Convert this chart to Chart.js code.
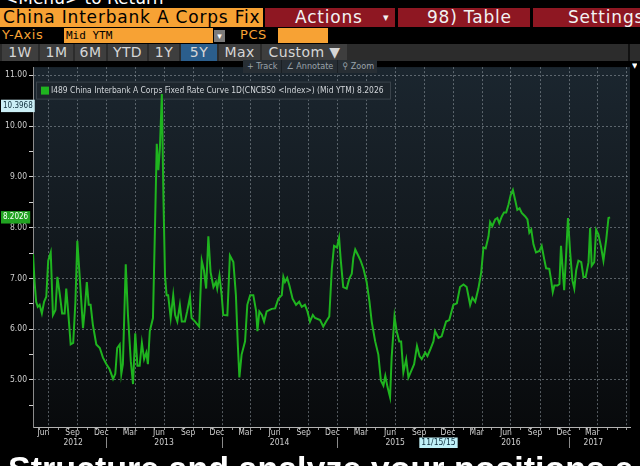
<!DOCTYPE html>
<html>
<head>
<meta charset="utf-8">
<script src="https://cdn.jsdelivr.net/npm/chart.js@4.4.0/dist/chart.umd.min.js"></script>
<style>
  html, body { margin: 0; padding: 0; background: #000; width: 640px; height: 466px; overflow: hidden; }
  .abs { position: absolute; white-space: nowrap; overflow: hidden; }
  #menu { left: 4px; top: -10px; color: #fff; font: 17px/17px 'DejaVu Sans', sans-serif; }
  .bar { top: 8px; height: 19px; font: 17px/19px 'DejaVu Sans', sans-serif; letter-spacing: 0.8px; }
  #title { left: 0; width: 260px; padding-left: 3px; background: #f7a234; color: #000; }
  .red { background: #8e1722; color: #f2f2f2; }
  .row2 { top: 27px; height: 16px; font: 13px/16px 'DejaVu Sans', sans-serif; letter-spacing: 0.6px; color: #f7a234; }
  .field { top: 28px; height: 15px; background: #f7a234; color: #000; font: 11px/15px 'DejaVu Sans Mono', monospace; }
  #tabs { left: 0; top: 44px; width: 640px; height: 17px; background: #2c2c2c; }
  .tab { top: 0; height: 17px; background: #3e3e3e; color: #d6d6d6; text-align: center; font: 14px/17px 'DejaVu Sans', sans-serif; letter-spacing: 0.4px; }
  #tools { left: 243px; top: 60px; width: 134px; height: 13px; background: #272e34; color: #9aa3aa; font: 9px/13px 'DejaVu Sans Condensed', sans-serif; z-index: 2; }
  #tools span { display: inline-block; padding: 0 4px; border-right: 1px solid #1a1f23; }
  #wrap { position: absolute; left: 0; top: 60px; width: 640px; height: 392px; }
  #promo { left: 8px; top: 451px; color: #fff; font: bold 34px/34px 'Liberation Sans', Arial, sans-serif; }
</style>
</head>
<body>
<div class="abs" id="menu">&lt;Menu&gt; to Return</div>
<div class="abs bar" id="title">China Interbank A Corps Fix</div>
<div class="abs bar red" style="left:265px;width:130px;"><span style="margin-left:30px">Actions</span><span style="position:absolute;left:118px;font-size:11px;">&#9662;</span></div>
<div class="abs bar red" style="left:398px;width:132px;"><span style="margin-left:29px">98) Table</span></div>
<div class="abs bar red" style="left:533px;width:107px;"><span style="margin-left:35px">Settings</span></div>

<div class="abs row2" style="left:2px;">Y-Axis</div>
<div class="abs field" style="left:64px;width:147px;padding-left:2px;">Mid YTM</div>
<div class="abs" style="left:214px;top:30px;width:11px;height:12px;background:#7b7b7b;color:#fff;font:9px/12px 'DejaVu Sans';text-align:center;">&#9662;</div>
<div class="abs row2" style="left:240px;">PCS</div>
<div class="abs field" style="left:278px;width:50px;"></div>

<div class="abs" id="tabs">
  <div class="abs tab" style="left:2px;width:36px;">1W</div>
  <div class="abs tab" style="left:40px;width:33px;">1M</div>
  <div class="abs tab" style="left:75px;width:31px;">6M</div>
  <div class="abs tab" style="left:108px;width:39px;">YTD</div>
  <div class="abs tab" style="left:149px;width:30px;">1Y</div>
  <div class="abs tab" style="left:181px;width:36px;background:#2b5e8c;">5Y</div>
  <div class="abs tab" style="left:219px;width:41px;">Max</div>
  <div class="abs tab" style="left:262px;width:85px;">Custom &#9660;</div>
  <div class="abs" style="left:628px;top:0;width:2px;height:17px;background:#111;"></div>
</div>

<div class="abs" id="tools"><span>+ Track</span><span>&#8736; Annotate</span><span style="border:none">&#9906; Zoom</span></div>
<div class="abs" style="left:632px;top:62px;color:#fff;font:7px/8px 'DejaVu Sans';">&#9660;</div>

<div id="wrap"><canvas id="chart"></canvas></div>
<div class="abs" id="promo">Structure and analyze your positions e</div>

<script>
// ---- data ----
const dates = [
  '2012-05-13','2012-05-18','2012-05-23','2012-05-28','2012-06-03','2012-06-10','2012-06-17','2012-06-24',
  '2012-06-30','2012-07-08','2012-07-15','2012-07-23','2012-07-29','2012-08-06','2012-08-13','2012-08-21',
  '2012-08-26','2012-09-01','2012-09-09','2012-09-17','2012-09-24','2012-09-30','2012-10-08','2012-10-18',
  '2012-10-23','2012-10-30','2012-11-05','2012-11-11','2012-11-18','2012-11-29','2012-12-10','2012-12-20',
  '2012-12-31','2013-01-10','2013-01-21','2013-01-28','2013-02-03','2013-02-11','2013-02-16','2013-02-21',
  '2013-03-02','2013-03-09','2013-03-18','2013-03-25','2013-04-01','2013-04-08','2013-04-15','2013-04-22',
  '2013-04-29','2013-05-06','2013-05-11','2013-05-17','2013-05-27','2013-06-02','2013-06-08','2013-06-13',
  '2013-06-18','2013-06-24','2013-06-29','2013-07-04','2013-07-09','2013-07-14','2013-07-22','2013-07-30',
  '2013-08-05','2013-08-12','2013-08-20','2013-08-26','2013-09-05','2013-09-12','2013-09-21','2013-09-26',
  '2013-10-07','2013-10-20','2013-10-28','2013-11-04','2013-11-11','2013-11-18','2013-11-25','2013-12-04',
  '2013-12-12','2013-12-16','2013-12-23','2013-12-30','2014-01-04','2014-01-17','2014-01-25','2014-02-05',
  '2014-02-13','2014-02-19','2014-02-24','2014-03-03','2014-03-14','2014-03-21','2014-03-30','2014-04-09',
  '2014-04-18','2014-04-22','2014-04-28','2014-05-06','2014-05-13','2014-05-21','2014-06-06','2014-06-17',
  '2014-06-27','2014-07-08','2014-07-13','2014-07-18','2014-07-25','2014-08-01','2014-08-11','2014-08-22',
  '2014-09-01','2014-09-09','2014-09-19','2014-09-27','2014-10-05','2014-10-14','2014-10-21','2014-11-06',
  '2014-11-16','2014-11-25','2014-12-05','2014-12-13','2014-12-20','2014-12-29','2015-01-05','2015-01-10',
  '2015-01-18','2015-01-29','2015-02-06','2015-02-14','2015-02-19','2015-02-25','2015-03-04','2015-03-14',
  '2015-03-23','2015-04-02','2015-04-11','2015-04-18','2015-04-29','2015-05-09','2015-05-17','2015-05-25',
  '2015-05-31','2015-06-07','2015-06-15','2015-06-20','2015-06-29','2015-07-06','2015-07-14','2015-07-20',
  '2015-07-27','2015-08-05','2015-08-12','2015-08-23','2015-08-30','2015-09-08','2015-09-16','2015-09-23',
  '2015-10-04','2015-10-11','2015-10-20','2015-10-30','2015-11-04','2015-11-15','2015-11-25','2015-12-09',
  '2015-12-19','2016-01-01','2016-01-12','2016-01-22','2016-02-02','2016-02-12','2016-02-23','2016-03-01',
  '2016-03-10','2016-03-20','2016-03-29','2016-04-05','2016-04-12','2016-04-21','2016-04-26','2016-05-03',
  '2016-05-12','2016-05-19','2016-05-25','2016-06-02','2016-06-09','2016-06-16','2016-06-23','2016-06-30',
  '2016-07-07','2016-07-14','2016-07-21','2016-07-28','2016-08-04','2016-08-15','2016-08-22','2016-08-28',
  '2016-09-03','2016-09-10','2016-09-18','2016-09-29','2016-10-06','2016-10-14','2016-10-20','2016-10-30',
  '2016-11-05','2016-11-10','2016-11-15','2016-11-25','2016-12-01','2016-12-06','2016-12-12','2016-12-16',
  '2016-12-21','2016-12-28','2017-01-04','2017-01-11','2017-01-17','2017-01-23','2017-01-30','2017-02-08',
  '2017-02-15','2017-02-22','2017-03-03','2017-03-08','2017-03-13','2017-03-21','2017-03-27','2017-04-03',
  '2017-04-11','2017-04-19','2017-04-28','2017-05-05','2017-05-10'
];

const yields = [
  7.48, 6.93, 6.54, 6.44, 6.48, 6.31, 6.54, 6.64,
  7.35, 7.51, 6.28, 6.38, 7.03, 6.67, 6.31, 6.31,
  6.80, 6.35, 5.70, 5.73, 6.54, 7.74, 6.99, 6.02,
  6.35, 6.93, 6.48, 6.48, 6.09, 5.70, 5.63, 5.44,
  5.31, 5.21, 5.02, 5.12, 5.63, 5.70, 5.12, 5.31,
  7.28, 6.28, 5.37, 4.92, 5.92, 5.28, 5.28, 5.73,
  5.41, 5.54, 5.31, 5.96, 6.22, 7.90, 9.65, 9.13,
  9.58, 10.63, 8.61, 7.06, 6.67, 6.67, 6.22, 6.67,
  6.28, 6.15, 6.48, 6.15, 6.15, 6.35, 6.64, 6.22,
  6.15, 6.05, 7.35, 7.16, 6.80, 7.83, 7.12, 6.83,
  6.93, 6.80, 7.06, 6.67, 6.28, 6.27, 7.45, 7.32,
  6.67, 5.70, 5.05, 5.50, 5.76, 6.48, 6.67, 6.67,
  6.35, 5.96, 6.35, 6.28, 6.15, 6.35, 6.40, 6.41,
  6.60, 6.67, 7.03, 6.93, 7.01, 6.86, 6.60, 6.48,
  6.54, 6.44, 6.48, 6.35, 6.15, 6.28, 6.22, 6.18,
  6.05, 6.15, 6.25, 7.19, 7.64, 7.61, 7.80, 7.38,
  6.83, 6.80, 6.99, 7.09, 7.41, 7.57, 7.48, 7.35,
  7.19, 6.93, 6.54, 6.15, 5.76, 5.50, 4.99, 4.89,
  5.08, 4.86, 4.66, 5.44, 6.25, 5.96, 5.76, 5.76,
  5.15, 5.41, 5.05, 5.21, 5.31, 5.67, 5.47, 5.41,
  5.54, 5.47, 5.60, 5.76, 5.96, 5.83, 5.86, 6.15,
  6.18, 6.48, 6.51, 6.83, 6.88, 6.83, 6.48, 6.62,
  6.54, 6.80, 7.12, 7.61, 7.59, 7.83, 8.11, 8.03,
  8.16, 8.19, 8.09, 8.22, 8.30, 8.30, 8.45, 8.64,
  8.74, 8.55, 8.35, 8.38, 8.29, 8.22, 8.16, 7.90,
  7.96, 7.67, 7.51, 7.54, 7.64, 7.38, 7.20, 7.19,
  6.96, 6.73, 6.86, 6.86, 6.89, 7.64, 7.12, 6.77,
  7.32, 8.19, 7.51, 6.96, 6.80, 7.16, 7.35, 7.32,
  7.03, 7.03, 7.32, 7.99, 7.25, 7.32, 7.96, 7.87,
  7.64, 7.35, 7.77, 8.19, 8.2026
];

const seriesLabel = 'I489 China Interbank A Corps Fixed Rate Curve 1D(CNCBS0 <Index>) (Mid YTM)';

const monthTickDates = [
  '2012-06-15','2012-09-15','2012-12-15','2013-03-15','2013-06-15','2013-09-15','2013-12-15',
  '2014-03-15','2014-06-15','2014-09-15','2014-12-15','2015-03-15','2015-06-15','2015-09-15',
  '2015-12-15','2016-03-15','2016-06-15','2016-09-15','2016-12-15','2017-03-15'
];
const monthTickLabels = [
  'Jun','Sep','Dec','Mar','Jun','Sep','Dec',
  'Mar','Jun','Sep','Dec','Mar','Jun','Sep',
  'Dec','Mar','Jun','Sep','Dec','Mar'
];
const yearTickDates = ['2012-09-17','2013-07-01','2014-07-01','2015-07-01','2016-07-01','2017-03-18'];
const yearTickLabels = ['2012','2013','2014','2015','2016','2017'];
const yearBreakDates = ['2013-01-01','2014-01-01','2015-01-01','2016-01-01','2017-01-01'];
const cursorDate = '2015-11-15';
const cursorLabel = '11/15/15';

const yTickValues = [4.5, 5, 5.5, 6, 6.5, 7, 7.5, 8, 8.5, 9, 9.5, 10, 10.5, 11];
const markerValues = [10.3968, 8.2026];

// ---- styling ----
const FONT = "'DejaVu Sans Condensed', 'Liberation Sans Narrow', sans-serif";
const GRID = 'rgba(150,158,166,0.55)';
const AXIS = '#9a9a9a';
const LABEL = '#cfcfcf';
const LINE = '#1fb41f';

const X_MIN = Date.parse('2012-05-13');
const X_MAX = Date.parse('2017-07-12');

const points = dates.map((d, i) => ({ x: Date.parse(d), y: yields[i] }));

const monthMarks = [];
for (let k = 0; Date.UTC(2012, 5 + k, 1) <= X_MAX; k++) {
  monthMarks.push(Date.UTC(2012, 5 + k, 1));
}

const yearItems = [
  ...yearBreakDates.map(d => ({ value: Date.parse(d), text: '', kind: 'break' })),
  ...yearTickDates.map((d, i) => ({ value: Date.parse(d), text: yearTickLabels[i], kind: 'year' })),
  { value: Date.parse(cursorDate), text: cursorLabel, kind: 'cursor' }
].sort((a, b) => a.value - b.value);

const kindAt = c => (yearItems[c.index] || {}).kind;
const isWhole = v => Math.abs(v - Math.round(v)) < 1e-6;

const panel = {
  id: 'panel',
  beforeDraw(chart) {
    const { ctx, chartArea: a } = chart;
    const g = ctx.createLinearGradient(0, a.top, 0, a.bottom);
    g.addColorStop(0, '#1b262f');
    g.addColorStop(0.5, '#12181d');
    g.addColorStop(1, '#080a0c');
    ctx.save();
    ctx.fillStyle = g;
    ctx.fillRect(a.left, a.top, a.right - a.left, a.bottom - a.top);
    ctx.restore();
  },
  beforeDatasetsDraw(chart) {
    const { ctx, chartArea: a } = chart;
    const ds = chart.data.datasets[0];
    const text = ds.label + ' ' + yields[yields.length - 1].toFixed(4);
    ctx.save();
    ctx.font = '10px ' + FONT;
    const w = ctx.measureText(text).width;
    const size = 10 * 333 / w;
    ctx.font = size.toFixed(2) + 'px ' + FONT;
    const left = a.left + 3, top = a.top + 14.5;
    ctx.fillStyle = '#1d252c';
    ctx.strokeStyle = '#3a434b';
    ctx.lineWidth = 1;
    ctx.fillRect(left, top, 355, 18);
    ctx.strokeRect(left + 0.5, top + 0.5, 354, 17);
    ctx.fillStyle = ds.borderColor;
    ctx.fillRect(left + 5, top + 5, 8, 8);
    ctx.fillStyle = '#d2d6da';
    ctx.textBaseline = 'middle';
    ctx.fillText(text, left + 15, top + 9.5);
    ctx.restore();
  }
};

new Chart(document.getElementById('chart'), {
  type: 'line',
  data: {
    datasets: [{
      label: seriesLabel,
      data: points,
      borderColor: LINE,
      borderWidth: 2,
      pointRadius: 0,
      tension: 0,
      fill: false
    }]
  },
  options: {
    responsive: true,
    maintainAspectRatio: false,
    animation: false,
    events: [],
    layout: { padding: { top: 2, right: 10, left: 0, bottom: 0 } },
    plugins: { legend: { display: false }, tooltip: { enabled: false } },
    scales: {
      x: {
        type: 'linear', position: 'bottom', weight: 0,
        min: X_MIN, max: X_MAX,
        afterBuildTicks: s => { s.ticks = monthMarks.map(v => ({ value: v })); },
        afterFit: s => { s.height = 0; },
        ticks: { display: false, autoSkip: false },
        grid: {
          color: c => (c.tick && new Date(c.tick.value).getUTCMonth() % 3 === 0) ? GRID : 'transparent',
          tickColor: AXIS, tickLength: 3, lineWidth: 1
        },
        border: { color: '#b4b4b4', width: 1, dash: [2, 2] }
      },
      xm: {
        type: 'linear', position: 'bottom', weight: 1, display: true,
        min: X_MIN, max: X_MAX,
        afterBuildTicks: s => { s.ticks = monthTickDates.map(d => ({ value: Date.parse(d) })); },
        afterFit: s => { s.height = 10; },
        ticks: {
          autoSkip: false, maxRotation: 0, padding: 1.5, color: LABEL,
          font: { family: FONT, size: 8.5, lineHeight: 1 },
          callback: (v, i) => monthTickLabels[i]
        },
        grid: { display: false, drawTicks: false },
        border: { display: false }
      },
      xy: {
        type: 'linear', position: 'bottom', weight: 2, display: true,
        min: X_MIN, max: X_MAX,
        afterBuildTicks: s => { s.ticks = yearItems.map(t => ({ value: t.value })); },
        afterFit: s => { s.height = 15; },
        ticks: {
          autoSkip: false, maxRotation: 0, padding: -9.5,
          font: { family: FONT, size: 8.5, lineHeight: 1 },
          color: c => kindAt(c) === 'cursor' ? '#0c2c3c' : LABEL,
          showLabelBackdrop: c => kindAt(c) === 'cursor',
          backdropColor: '#bff0f7',
          backdropPadding: { x: 2, y: 1 },
          callback: (v, i) => yearItems[i].text
        },
        grid: {
          drawOnChartArea: false, tickLength: 11, color: 'transparent',
          tickColor: c => kindAt(c) === 'break' ? '#8a8a8a' : 'transparent'
        },
        border: { display: false }
      },
      y: {
        type: 'linear', position: 'left', weight: 0,
        min: 4.074, max: 11.161,
        afterBuildTicks: s => { s.ticks = yTickValues.map(v => ({ value: v })); },
        afterFit: s => { s.width = 33; },
        ticks: {
          autoSkip: false, padding: 2, color: LABEL,
          font: { family: FONT, size: 8.5 },
          callback: v => isWhole(v) ? v.toFixed(2) : ''
        },
        grid: {
          color: c => (c.tick && isWhole(c.tick.value)) ? GRID : 'transparent',
          tickColor: '#cfcfcf', tickLength: 4, lineWidth: 1
        },
        border: { color: '#8c8c8c', width: 1, dash: [2, 2] }
      },
      yh: {
        // value flags on the left edge, drawn mirrored so they are not clipped to a zero-width box
        type: 'linear', position: 'left', weight: -1, display: true,
        min: 4.074, max: 11.161,
        afterBuildTicks: s => { s.ticks = markerValues.map(v => ({ value: v })); },
        afterFit: s => { s.width = 0; },
        ticks: {
          autoSkip: false, mirror: true, padding: -30,
          font: { family: FONT, size: 8, lineHeight: 1.3 },
          color: c => c.index === 0 ? '#10303e' : '#ffffff',
          showLabelBackdrop: true,
          backdropColor: c => c.index === 0 ? '#cbeff6' : '#21a321',
          backdropPadding: { x: 2, y: 1 },
          callback: v => v.toFixed(4)
        },
        grid: { display: false, drawTicks: false },
        border: { display: false }
      }
    }
  },
  plugins: [panel]
});
</script>
</body>
</html>
